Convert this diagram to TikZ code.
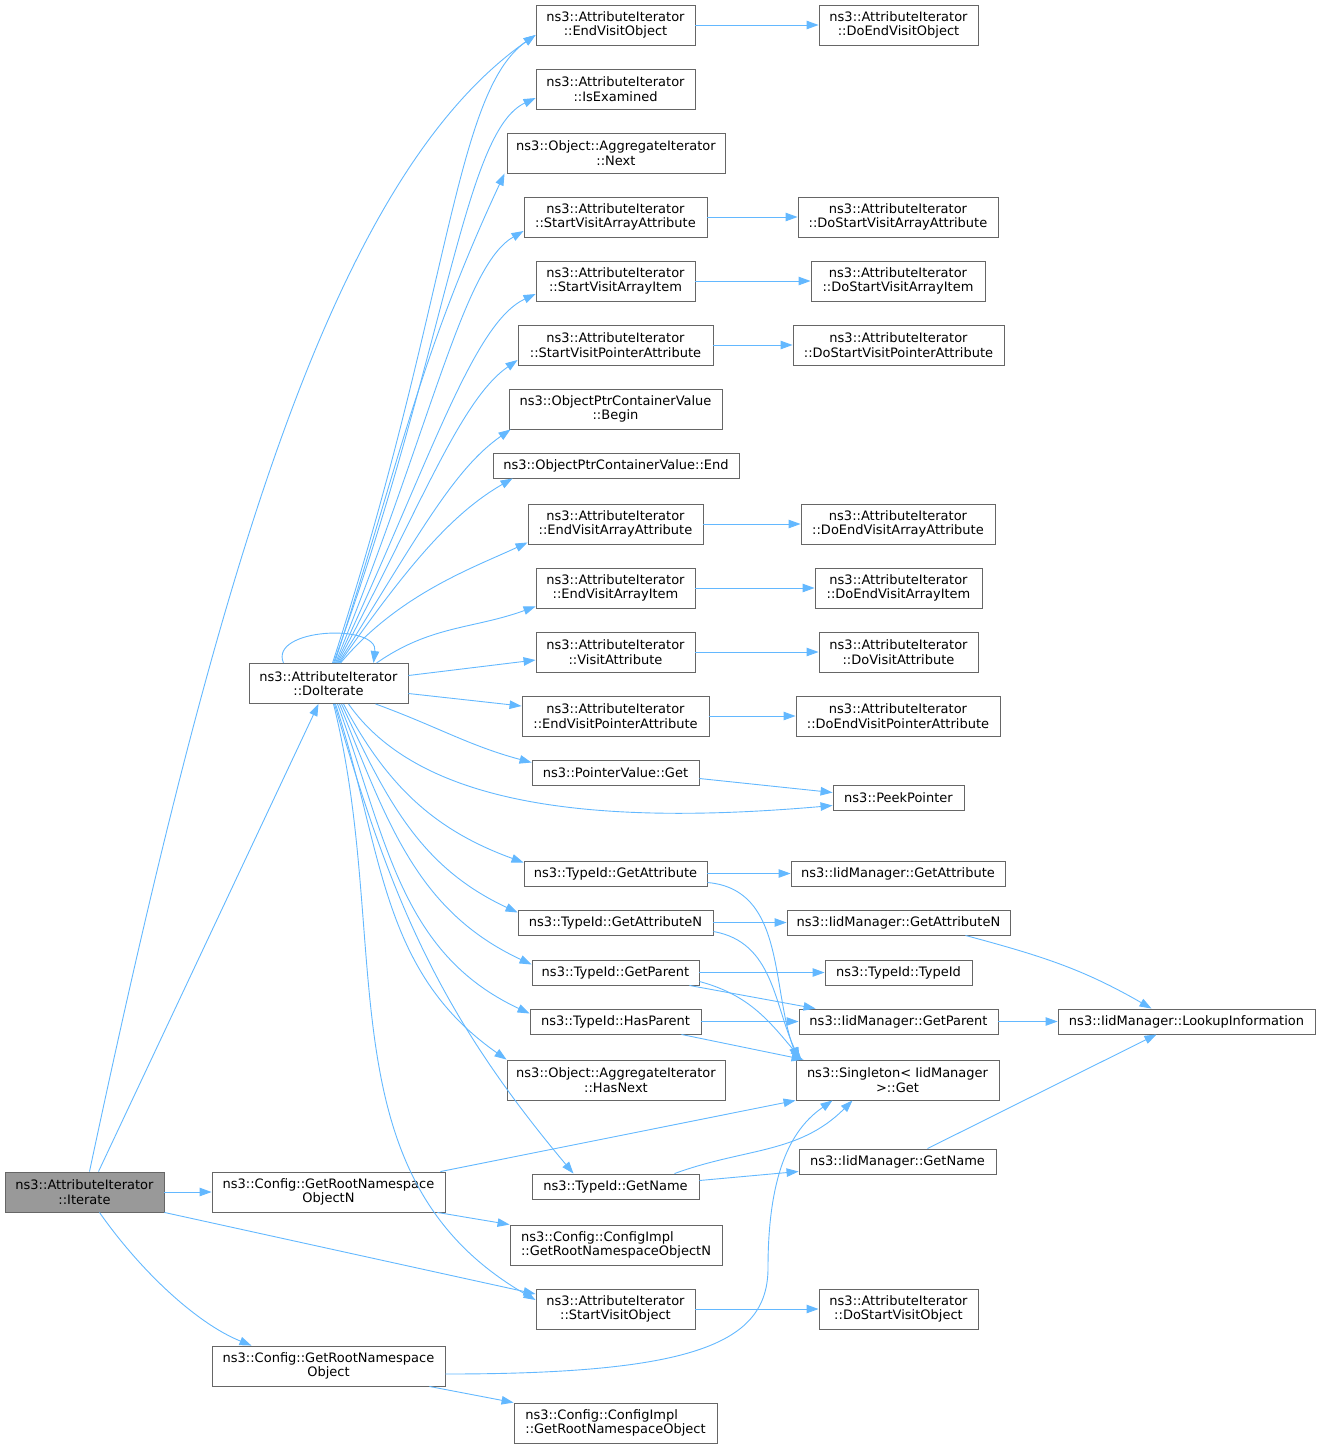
\documentclass[tikz,border=0pt]{standalone}
\usepackage{fontspec}
\setmainfont{DejaVu Sans}
\usetikzlibrary{arrows.meta}
\definecolor{callblue}{HTML}{63B8FF}
\definecolor{boxline}{HTML}{666666}
\definecolor{boxcur}{HTML}{999999}

\begin{document}
\begin{tikzpicture}[x=1pt,y=1pt,
  fn/.style={draw=boxline, fill=white, line width=0.9pt, inner sep=0pt, anchor=center,
    minimum height=25pt, align=center, font=\fontsize{13}{14.5}\selectfont},
  fntwo/.style={fn, minimum height=40pt},
  call/.style={draw=callblue, line width=0.9pt, -{Triangle[length=12pt,width=8.5pt]}}]

\useasboundingbox (0,0) rectangle (1321,-1449);

% left column
\node[fntwo, fill=boxcur, minimum width=159pt] (1) at (84.5,-1192)
{ns3::AttributeIterator\\::Iterate};

\node[fntwo, minimum width=159pt] (2) at (328.5,-683.5)
{ns3::AttributeIterator\\::DoIterate};

\node[fntwo, minimum width=233pt] (3) at (328.5,-1192)
{ns3::Config::GetRootNamespace\\ObjectN};

\node[fntwo, minimum width=233pt] (4) at (328.5,-1366)
{ns3::Config::GetRootNamespace\\Object};

% middle column
\node[fntwo, minimum width=159pt] (5) at (615.5,-25)
{ns3::AttributeIterator\\::EndVisitObject};

\node[fntwo, minimum width=159pt] (6) at (615.5,-89)
{ns3::AttributeIterator\\::IsExamined};

\node[fntwo, minimum width=218pt] (7) at (616,-153)
{ns3::Object::AggregateIterator\\::Next};

\node[fntwo, minimum width=183pt] (8) at (615.5,-217)
{ns3::AttributeIterator\\::StartVisitArrayAttribute};

\node[fntwo, minimum width=159pt] (9) at (615.5,-281)
{ns3::AttributeIterator\\::StartVisitArrayItem};

\node[fntwo, minimum width=195pt] (10) at (615.5,-345)
{ns3::AttributeIterator\\::StartVisitPointerAttribute};

\node[fntwo, minimum width=213pt] (11) at (615.5,-409)
{ns3::ObjectPtrContainerValue\\::Begin};

\node[fn, minimum width=246pt] (12) at (616,-465.5)
{ns3::ObjectPtrContainerValue::End};

\node[fntwo, minimum width=175pt] (13) at (615.5,-524)
{ns3::AttributeIterator\\::EndVisitArrayAttribute};

\node[fntwo, minimum width=159pt] (14) at (615.5,-588)
{ns3::AttributeIterator\\::EndVisitArrayItem};

\node[fntwo, minimum width=159pt] (15) at (615.5,-652)
{ns3::AttributeIterator\\::VisitAttribute};

\node[fntwo, minimum width=187pt] (16) at (615.5,-716)
{ns3::AttributeIterator\\::EndVisitPointerAttribute};

\node[fn, minimum width=167pt] (17) at (615.5,-772.5)
{ns3::PointerValue::Get};

\node[fn, minimum width=183pt] (18) at (615.5,-873.5)
{ns3::TypeId::GetAttribute};

\node[fn, minimum width=195pt] (19) at (615.5,-922.5)
{ns3::TypeId::GetAttributeN};

\node[fn, minimum width=167pt] (20) at (615.5,-972.5)
{ns3::TypeId::GetParent};

\node[fn, minimum width=171pt] (21) at (615.5,-1021.5)
{ns3::TypeId::HasParent};

\node[fntwo, minimum width=218pt] (22) at (616,-1080)
{ns3::Object::AggregateIterator\\::HasNext};

\node[fn, minimum width=167pt] (23) at (615.5,-1186.5)
{ns3::TypeId::GetName};

\node[fntwo, minimum width=212pt, align=left] (24) at (616,-1245)
{ns3::Config::ConfigImpl\\::GetRootNamespaceObjectN};

\node[fntwo, minimum width=159pt] (25) at (615.5,-1309)
{ns3::AttributeIterator\\::StartVisitObject};

\node[fntwo, minimum width=203pt, align=left] (26) at (615.5,-1423)
{ns3::Config::ConfigImpl\\::GetRootNamespaceObject};

% right columns
\node[fntwo, minimum width=159pt] (27) at (898.5,-25)
{ns3::AttributeIterator\\::DoEndVisitObject};

\node[fntwo, minimum width=200pt] (28) at (898,-217)
{ns3::AttributeIterator\\::DoStartVisitArrayAttribute};

\node[fntwo, minimum width=174pt] (29) at (898,-281)
{ns3::AttributeIterator\\::DoStartVisitArrayItem};

\node[fntwo, minimum width=211pt] (30) at (898.5,-345)
{ns3::AttributeIterator\\::DoStartVisitPointerAttribute};

\node[fntwo, minimum width=194pt] (31) at (898,-524)
{ns3::AttributeIterator\\::DoEndVisitArrayAttribute};

\node[fntwo, minimum width=167pt] (32) at (898.5,-588)
{ns3::AttributeIterator\\::DoEndVisitArrayItem};

\node[fntwo, minimum width=159pt] (33) at (898.5,-652)
{ns3::AttributeIterator\\::DoVisitAttribute};

\node[fntwo, minimum width=204pt] (34) at (898,-716)
{ns3::AttributeIterator\\::DoEndVisitPointerAttribute};

\node[fn, minimum width=131pt] (35) at (898.5,-797.5)
{ns3::PeekPointer};

\node[fn, minimum width=214pt] (36) at (898,-873.5)
{ns3::IidManager::GetAttribute};

\node[fn, minimum width=223pt] (37) at (898.5,-922.5)
{ns3::IidManager::GetAttributeN};

\node[fn, minimum width=147pt] (38) at (898.5,-972.5)
{ns3::TypeId::TypeId};

\node[fn, minimum width=199pt] (39) at (898.5,-1021.5)
{ns3::IidManager::GetParent};

\node[fntwo, minimum width=203pt] (40) at (897.5,-1080)
{ns3::Singleton< IidManager\\>::Get};

\node[fn, minimum width=197pt] (41) at (897.5,-1161.5)
{ns3::IidManager::GetName};

\node[fntwo, minimum width=159pt] (42) at (898.5,-1309)
{ns3::AttributeIterator\\::DoStartVisitObject};

\node[fn, minimum width=257pt] (43) at (1186.5,-1021.5)
{ns3::IidManager::LookupInformation};

\coordinate (4up) at (768,-1268);


% calls from Iterate
\draw[call] ([xshift=5pt]1.north) .. controls +(78:600pt) and +(215:250pt) .. ([yshift=-10pt]5.west);

\draw[call] ([xshift=14pt]1.north) -- ([xshift=-10pt]2.south);

\draw[call] (1) -- (3);

\draw[call] (1.south east) -- ([yshift=15pt]25.west);

\draw[call] ([xshift=15pt]1.south) .. controls +(-55:70pt) and +(158:60pt) .. ([xshift=-77pt]4.north);

% calls from DoIterate, upwards
\draw[call] ([xshift=-45pt]2.north) .. controls +(-15,35) and +(5,40) .. ([xshift=45pt]2.north);

\draw[call] ([xshift=4pt]2.north) .. controls +(72:380pt) and +(215:100pt) .. ([yshift=-10pt]5.west);

\draw[call] ([xshift=5pt]2.north) .. controls +(70:330pt) and +(205:80pt) .. ([yshift=-9pt]6.west);

\draw[call] ([xshift=6pt]2.north) .. controls +(72:204pt) and +(245:204pt) .. ([xshift=-2pt]7.south west);

\draw[call] ([xshift=7pt]2.north) .. controls +(68:260pt) and +(210:70pt) .. ([yshift=-14pt]8.west);

\draw[call] ([xshift=8pt]2.north) .. controls +(65:220pt) and +(205:70pt) .. ([yshift=-13pt]9.west);

\draw[call] ([xshift=9pt]2.north) .. controls +(62:180pt) and +(215:70pt) .. ([yshift=-15pt]10.west);

\draw[call] ([xshift=10pt]2.north) .. controls +(58:150pt) and +(215:70pt) .. ([xshift=2pt]11.south west);

\draw[call] ([xshift=11pt]2.north) .. controls +(55:120pt) and +(210:70pt) .. ([xshift=20pt]12.south west);

\draw[call] ([xshift=12pt]2.north) .. controls +(50:90pt) and +(205:60pt) .. ([yshift=2pt]13.south west);

\draw[call] ([xshift=48pt]2.north) .. controls +(35:66pt) and +(200:66pt) .. ([yshift=2pt]14.south west);

\draw[call] ([yshift=8pt]2.east) -- ([yshift=-8pt]15.west);

\draw[call] ([yshift=-10pt]2.east) -- ([yshift=10pt]16.west);

% calls from DoIterate, downwards
\draw[call] ([xshift=47pt]2.south) .. controls +(-20:65pt) and +(165:65pt) .. ([yshift=10pt]17.west);

\draw[call] ([xshift=20pt]2.south) .. controls +(-55:120pt) and +(185:250pt) .. ([yshift=-8pt]35.west);

\draw[call] ([xshift=15pt]2.south) .. controls +(-62:94pt) and +(160:94pt) .. ([yshift=11pt]18.west);

\draw[call] ([xshift=13pt]2.south) .. controls +(-65:107pt) and +(155:107pt) .. ([yshift=10pt]19.west);

\draw[call] ([xshift=11pt]2.south) .. controls +(-68:127pt) and +(155:127pt) .. ([yshift=8pt]20.west);

\draw[call] ([xshift=9pt]2.south) .. controls +(-70:143pt) and +(155:143pt) .. ([yshift=8pt]21.west);

\draw[call] ([xshift=7pt]2.south) .. controls +(-72:155pt) and +(145:155pt) .. (22.north west);

\draw[call] ([xshift=6pt]2.south) .. controls +(-74:207pt) and +(130:207pt) .. ([xshift=-42pt]23.north);

\draw[call] ([xshift=5pt]2.south) .. controls +(-76:247pt) and +(150:247pt) .. ([yshift=9pt]25.west);

% second level
\draw[call] (5) -- (27);
\draw[call] (8) -- (28);
\draw[call] (9) -- (29);
\draw[call] (10) -- (30);
\draw[call] (13) -- (31);
\draw[call] (14) -- (32);
\draw[call] (15) -- (33);
\draw[call] (16) -- (34);
\draw[call] (18) -- (36);
\draw[call] (19) -- (37);
\draw[call] (20) -- (38);
\draw[call] (21) -- (39);
\draw[call] (25) -- (42);

\draw[call] ([yshift=-6pt]17.east) -- ([yshift=5pt]35.west);

\draw[call] ([yshift=-9pt]18.east) .. controls +(-5:78pt) and +(110:78pt) .. ([xshift=2pt]40.north west);

\draw[call] ([yshift=-9pt]19.east) .. controls +(-10:61pt) and +(115:61pt) .. ([xshift=4pt]40.north west);

\draw[call] ([yshift=-9pt]20.east) .. controls +(-15:51pt) and +(130:51pt) .. ([xshift=6pt]40.north west);

\draw[call] ([xshift=-10pt]20.south east) -- ([xshift=17pt]39.north west);

\draw[call] ([xshift=-20pt]21.south east) -- ([xshift=8pt]40.north west);

\draw[call] ([xshift=-25pt]23.north east) .. controls +(20:76pt) and +(225:76pt) .. ([xshift=-45pt]40.south);

\draw[call] ([yshift=6pt]23.east) -- ([yshift=-10pt]41.west);

\draw[call] ([xshift=-5pt]3.north east) -- (40.south west);

\draw[call] ([xshift=-8pt]3.south east) -- (24.north west);

\draw[call] ([yshift=-8pt]4.east) .. controls +(0:250pt) and +(-90:75pt) .. (4up)
  .. controls +(90:110pt) and +(215:40pt) .. ([xshift=-65pt]40.south);

\draw[call] ([xshift=-16pt]4.south east) -- (26.north west);

% to LookupInformation
\draw[call] ([xshift=-45pt]37.south east) .. controls +(-15:79pt) and +(150:79pt) .. ([xshift=-35pt]43.north);

\draw[call] (39) -- (43);

\draw[call] ([xshift=30pt]41.north) -- ([xshift=-30pt]43.south);
\end{tikzpicture}
\end{document}
